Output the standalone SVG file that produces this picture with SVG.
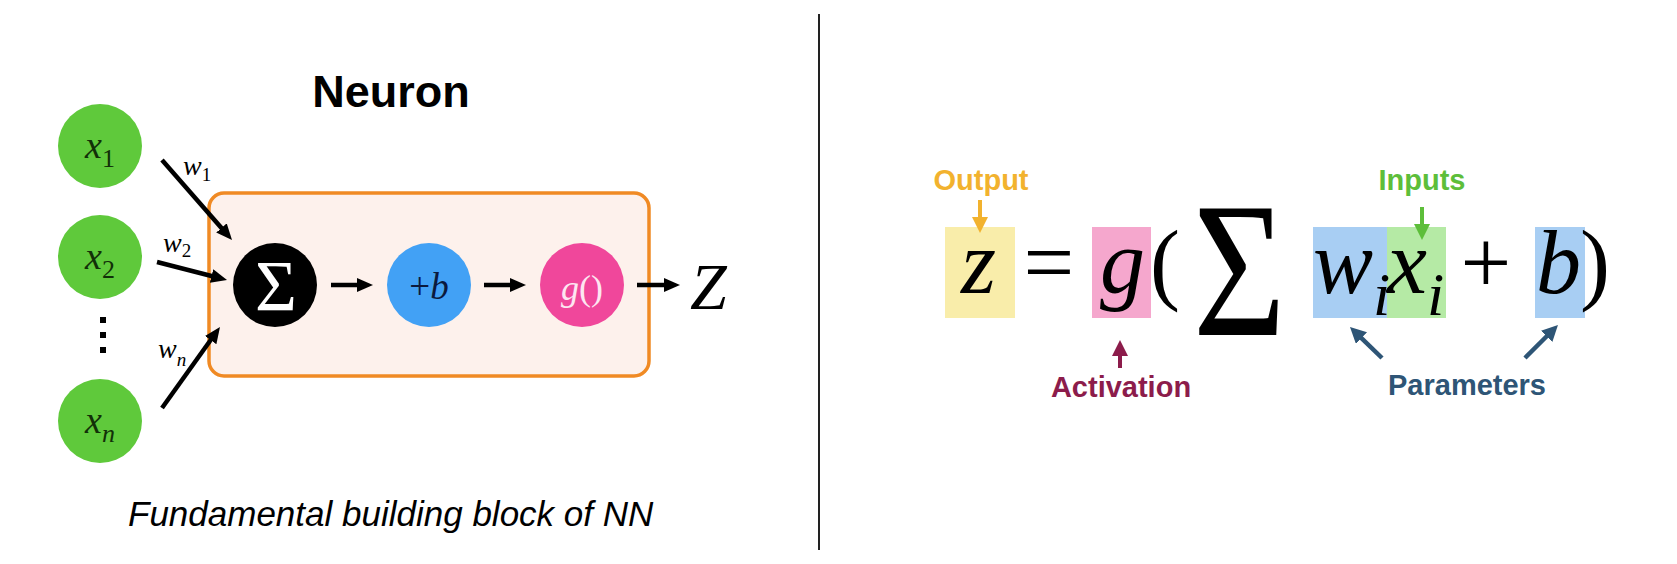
<svg xmlns="http://www.w3.org/2000/svg" width="1677" height="564" viewBox="0 0 1677 564">
<style>
.serif{font-family:"Liberation Serif","Times New Roman",serif}
.it{font-style:italic}
.sans{font-family:"Liberation Sans",Arial,Helvetica,sans-serif}
.lbl{font-family:"Liberation Sans",Arial,Helvetica,sans-serif;font-weight:bold;font-size:29px;text-anchor:middle}
.conn{stroke:#000;stroke-width:4.5;fill:none}
.inp{fill:#5FC93B}
</style>
<defs>
<marker id="ah" markerUnits="userSpaceOnUse" markerWidth="16" markerHeight="16" refX="4" refY="7" orient="auto"><path d="M0,0 L16,7 L0,14 z" fill="#000"/></marker>
<marker id="ahO" markerUnits="userSpaceOnUse" markerWidth="17" markerHeight="17" refX="4" refY="8" orient="auto"><path d="M0,0 L16,8 L0,16 z" fill="#F2B22E"/></marker>
<marker id="ahI" markerUnits="userSpaceOnUse" markerWidth="17" markerHeight="17" refX="4" refY="8" orient="auto"><path d="M0,0 L16,8 L0,16 z" fill="#5DBE3A"/></marker>
<marker id="ahA" markerUnits="userSpaceOnUse" markerWidth="17" markerHeight="17" refX="4" refY="8" orient="auto"><path d="M0,0 L16,8 L0,16 z" fill="#8C1C4B"/></marker>
<marker id="ahP" markerUnits="userSpaceOnUse" markerWidth="17" markerHeight="17" refX="4" refY="8" orient="auto"><path d="M0,0 L16,8 L0,16 z" fill="#2E5576"/></marker>
</defs>
<rect width="1677" height="564" fill="#fff"/>

<!-- Left panel -->
<text class="sans" x="391" y="107" font-size="45" font-weight="bold" text-anchor="middle">Neuron</text>

<g id="neuron-box">
<rect x="209" y="193" width="440" height="183" rx="15" fill="#FDF1EC" stroke="#F08A24" stroke-width="3.5"/>
</g>

<g id="x1">
<circle cx="100" cy="146" r="42" class="inp"/>
<text class="serif" x="85" y="158" font-size="38" fill="#123008"><tspan class="it">x</tspan><tspan font-size="26" dy="9">1</tspan></text>
</g>
<g id="x2">
<circle cx="100" cy="257" r="42" class="inp"/>
<text class="serif" x="85" y="269" font-size="38" fill="#123008"><tspan class="it">x</tspan><tspan font-size="26" dy="9">2</tspan></text>
</g>
<g id="dots">
<rect x="100" y="317" width="6" height="6" fill="#000"/>
<rect x="100" y="332" width="6" height="6" fill="#000"/>
<rect x="100" y="347" width="6" height="6" fill="#000"/>
</g>
<g id="xn">
<circle cx="100" cy="421" r="42" class="inp"/>
<text class="serif" x="85" y="433" font-size="38" fill="#123008"><tspan class="it">x</tspan><tspan class="it" font-size="26" dy="9">n</tspan></text>
</g>

<g id="sum">
<circle cx="275" cy="285" r="42" fill="#000"/>
<text class="serif" x="276" y="310" font-size="72" fill="#fff" text-anchor="middle">Σ</text>
</g>
<g id="bias">
<circle cx="429" cy="285" r="42" fill="#42A1F5"/>
<text class="serif" x="429" y="299" font-size="37" fill="#0B1A3E" text-anchor="middle">+<tspan class="it">b</tspan></text>
</g>
<g id="activation">
<circle cx="582" cy="285" r="42" fill="#F0479B"/>
<text class="serif" x="582" y="300" font-size="36" fill="#FDE6F1" text-anchor="middle"><tspan class="it">g</tspan>()</text>
</g>
<g id="output-z">
<text class="serif it" x="690" y="309" font-size="66">Z</text>
</g>

<g id="weights">
<text class="serif" x="183" y="175" font-size="28"><tspan class="it">w</tspan><tspan font-size="19" dy="6">1</tspan></text>
<text class="serif" x="163" y="252" font-size="28"><tspan class="it">w</tspan><tspan font-size="19" dy="5">2</tspan></text>
<text class="serif" x="158" y="358" font-size="28"><tspan class="it">w</tspan><tspan class="it" font-size="19" dy="8">n</tspan></text>
</g>

<text class="sans" x="128" y="526" font-size="35" font-style="italic">Fundamental building block of NN</text>

<!-- Divider -->
<line x1="819" y1="14" x2="819" y2="550" stroke="#222" stroke-width="2"/>

<!-- Right panel: formula -->
<g id="formula-boxes">
<rect x="945" y="227" width="70" height="91" fill="#F9EDAA"/>
<rect x="1092" y="227" width="59" height="91" fill="#F5A7CD"/>
<rect x="1313" y="227" width="74" height="91" fill="#A8CEF3"/>
<rect x="1387" y="227" width="59" height="91" fill="#B5EAA5"/>
<rect x="1535" y="227" width="50" height="91" fill="#A8CEF3"/>
</g>
<g id="formula" class="serif" font-size="90" fill="#000">
<text class="it" x="961" y="293">z</text>
<text x="1049" y="293" text-anchor="middle">=</text>
<text class="it" x="1100" y="293">g</text>
<text x="1150" y="293">(</text>
<text transform="translate(1193,335) scale(0.83,1)" font-size="192">Σ</text>
<text x="1313" y="293"><tspan class="it">w</tspan><tspan class="it" font-size="62" dy="22">i</tspan></text>
<text x="1387" y="293"><tspan class="it">x</tspan><tspan class="it" font-size="62" dy="22">i</tspan></text>
<text x="1486" y="293" text-anchor="middle">+</text>
<text class="it" x="1536" y="293">b</text>
<text x="1580" y="293">)</text>
</g>

<g id="connectors">
<line class="conn" x1="162" y1="160" x2="224.1" y2="231" marker-end="url(#ah)"/>
<line class="conn" x1="157" y1="262" x2="215.4" y2="277" marker-end="url(#ah)"/>
<line class="conn" x1="162" y1="408" x2="213" y2="336.8" marker-end="url(#ah)"/>
<line class="conn" x1="331" y1="285" x2="361" y2="285" marker-end="url(#ah)"/>
<line class="conn" x1="484" y1="285" x2="514" y2="285" marker-end="url(#ah)"/>
<line class="conn" x1="637" y1="285" x2="668" y2="285" marker-end="url(#ah)"/>
<line x1="980" y1="200" x2="980" y2="221" stroke="#F2B22E" stroke-width="4" marker-end="url(#ahO)"/>
<line x1="1422" y1="207" x2="1422" y2="228" stroke="#5DBE3A" stroke-width="4" marker-end="url(#ahI)"/>
<line x1="1120" y1="368" x2="1120" y2="352" stroke="#8C1C4B" stroke-width="4" marker-end="url(#ahA)"/>
<line x1="1382" y1="358" x2="1358.6" y2="335.3" stroke="#2E5576" stroke-width="4.5" marker-end="url(#ahP)"/>
<line x1="1525" y1="358" x2="1549.5" y2="333.5" stroke="#2E5576" stroke-width="4.5" marker-end="url(#ahP)"/>
</g>

<g id="labels">
<text class="lbl" x="981" y="190" fill="#F2B22E">Output</text>
<text class="lbl" x="1422" y="190" fill="#5DBE3A">Inputs</text>
<text class="lbl" x="1121" y="397" fill="#8C1C4B">Activation</text>
<text class="lbl" x="1467" y="395" fill="#2E5576">Parameters</text>
</g>
</svg>
